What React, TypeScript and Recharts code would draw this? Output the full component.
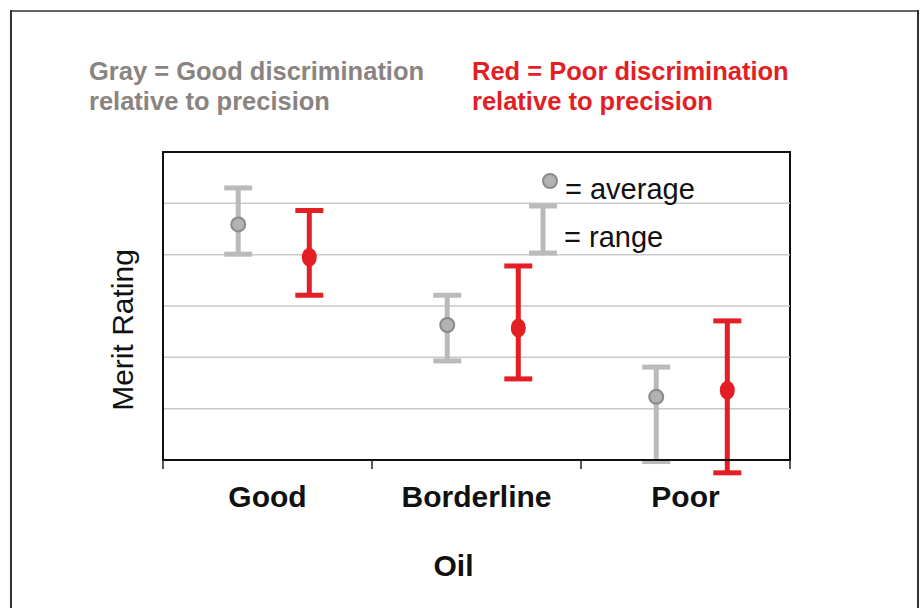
import {
  ScatterChart,
  Scatter,
  XAxis,
  YAxis,
  ReferenceLine,
  ReferenceArea,
  Label,
} from 'recharts';

const categories = ['Good', 'Borderline', 'Poor'];

// gray = good discrimination relative to precision
const grayAvg = [4.59, 2.63, 1.23];
const grayLow = [4.01, 1.93, -0.03];
const grayHigh = [5.3, 3.21, 1.81];

// red = poor discrimination relative to precision
const redAvg = [3.95, 2.57, 1.36];
const redLow = [3.21, 1.58, -0.25];
const redHigh = [4.86, 3.78, 2.71];

const yTicks = [0, 1, 2, 3, 4, 5, 6];
const xTicks = [0, 0.5, 1, 1.5, 2, 2.5, 3];

const GRAY_OFFSET = 0.36;
const RED_OFFSET = 0.7;

const GRAY = '#bababa';
const RED = '#e31e25';
const FONT = '"Liberation Sans", Arial, sans-serif';

const grayPoints = categories.map((c, i) => ({ x: i + GRAY_OFFSET, y: grayAvg[i], name: c }));
const redPoints = categories.map((c, i) => ({ x: i + RED_OFFSET, y: redAvg[i], name: c }));

// I-beam drawn between the two segment end points
const rangeShape = (color: string) => (props: any) => {
  const { x1, y1, x2, y2 } = props;
  const half = 14;
  return (
    <g>
      <line x1={x1} y1={y1} x2={x2} y2={y2} stroke={color} strokeWidth={5} />
      <line x1={x1 - half} y1={y1} x2={x1 + half} y2={y1} stroke={color} strokeWidth={5} />
      <line x1={x2 - half} y1={y2} x2={x2 + half} y2={y2} stroke={color} strokeWidth={5} />
    </g>
  );
};

const grayDot = (props: any) => (
  <circle cx={props.cx} cy={props.cy} r={7} fill="#b2b2b2" stroke="#8a8a8a" strokeWidth={2} />
);
const redDot = (props: any) => <ellipse cx={props.cx} cy={props.cy} rx={7.5} ry={9.5} fill={RED} />;

const XTick = (props: any) => {
  const { x, y, payload } = props;
  const v = payload.value;
  if (Number.isInteger(v)) {
    return <line x1={x} y1={y - 8} x2={x} y2={y + 1} stroke="#222" strokeWidth={1.5} />;
  }
  return (
    <text x={x} y={y + 39} textAnchor="middle" fontFamily={FONT} fontWeight="bold" fontSize={30} fill="#111">
      {categories[Math.floor(v)]}
    </text>
  );
};

const renderYLabel = (props: any) => {
  const { x, y, width, height } = props.viewBox;
  const cx = x + width - 41;
  const cy = y + height / 2 + 24;
  return (
    <text
      x={cx}
      y={cy}
      transform={`rotate(-90 ${cx} ${cy})`}
      textAnchor="middle"
      dominantBaseline="central"
      fontFamily={FONT}
      fontSize={30}
      fill="#111"
    >
      Merit Rating
    </text>
  );
};

const renderXLabel = (props: any) => {
  const { x, y, width } = props.viewBox;
  return (
    <text x={x + width / 2 - 23} y={y + 116} textAnchor="middle" fontFamily={FONT} fontWeight="bold" fontSize={30} fill="#111">
      Oil
    </text>
  );
};

export default function App() {
  return (
    <div style={{ position: 'fixed', left: 0, top: 0, width: 923, height: 608, background: '#fff', overflow: 'hidden' }}>
      <ScatterChart width={923} height={608} margin={{ top: 152, right: 133, bottom: 88, left: 103 }}>
        <XAxis
          type="number"
          dataKey="x"
          domain={[0, 3]}
          ticks={xTicks}
          interval={0}
          height={60}
          tickLine={false}
          axisLine={{ stroke: '#111', strokeWidth: 2 }}
          tick={<XTick />}
        >
          <Label content={renderXLabel} />
        </XAxis>
        <YAxis
          type="number"
          dataKey="y"
          domain={[0, 6]}
          ticks={yTicks}
          width={60}
          tick={false}
          tickLine={false}
          axisLine={{ stroke: '#111', strokeWidth: 2 }}
        >
          <Label content={renderYLabel} />
        </YAxis>
        {yTicks.slice(1, -1).map((v) => (
          <ReferenceLine key={'grid' + v} y={v} stroke="#c9c9c9" strokeWidth={1.5} />
        ))}
        <ReferenceArea x1={0} x2={3} y1={0} y2={6} fill="none" stroke="#111" strokeWidth={2} ifOverflow="visible" />
        {categories.map((c, i) => (
          <ReferenceLine
            key={'g' + c}
            segment={[
              { x: i + GRAY_OFFSET, y: grayLow[i] },
              { x: i + GRAY_OFFSET, y: grayHigh[i] },
            ]}
            ifOverflow="visible"
            shape={rangeShape(GRAY)}
          />
        ))}
        {categories.map((c, i) => (
          <ReferenceLine
            key={'r' + c}
            segment={[
              { x: i + RED_OFFSET, y: redLow[i] },
              { x: i + RED_OFFSET, y: redHigh[i] },
            ]}
            ifOverflow="visible"
            shape={rangeShape(RED)}
          />
        ))}
        <Scatter data={grayPoints} shape={grayDot} isAnimationActive={false} />
        <Scatter data={redPoints} shape={redDot} isAnimationActive={false} />
      </ScatterChart>

      <svg width={923} height={608} style={{ position: 'absolute', left: 0, top: 0, pointerEvents: 'none' }}>
        {/* frame */}
        <line x1={10} y1={11} x2={919} y2={11} stroke="#666" strokeWidth={2} />
        <line x1={11} y1={10} x2={11} y2={608} stroke="#333" strokeWidth={2} />
        <line x1={918} y1={10} x2={918} y2={608} stroke="#333" strokeWidth={2} />

        {/* titles */}
        <text fontFamily={FONT} fontWeight="bold" fontSize={25.5} fill="#8a8480">
          <tspan x={89} y={80}>Gray = Good discrimination</tspan>
          <tspan x={89} y={110}>relative to precision</tspan>
        </text>
        <text fontFamily={FONT} fontWeight="bold" fontSize={25.5} fill={RED}>
          <tspan x={472} y={80}>Red = Poor discrimination</tspan>
          <tspan x={472} y={110}>relative to precision</tspan>
        </text>

        {/* key */}
        <circle cx={550} cy={181} r={7} fill="#b2b2b2" stroke="#8a8a8a" strokeWidth={2} />
        <line x1={543} y1={206} x2={543} y2={253} stroke={GRAY} strokeWidth={5} />
        <line x1={529} y1={206} x2={557} y2={206} stroke={GRAY} strokeWidth={5} />
        <line x1={529} y1={253} x2={557} y2={253} stroke={GRAY} strokeWidth={5} />
        <text x={565} y={199} fontFamily={FONT} fontSize={29} fill="#111">= average</text>
        <text x={564} y={247} fontFamily={FONT} fontSize={29} fill="#111">= range</text>
      </svg>
    </div>
  );
}
